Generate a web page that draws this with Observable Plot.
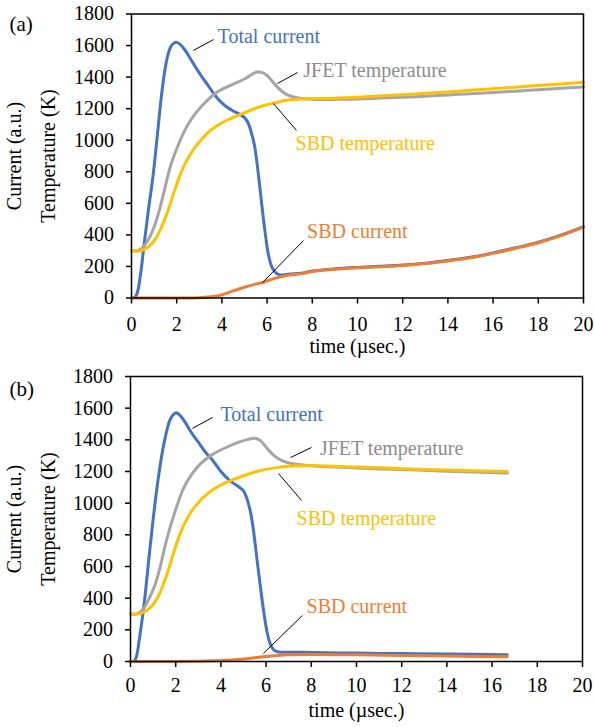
<!DOCTYPE html>
<html>
<head>
<meta charset="utf-8">
<script src="https://cdn.jsdelivr.net/npm/d3@7"></script>
<script src="https://cdn.jsdelivr.net/npm/@observablehq/plot@0.6"></script>
<style>
  html, body { margin: 0; padding: 0; background: white; font-family: 'Liberation Serif'; }
  #chart { position: relative; width: 594px; height: 727px; }
  #chart svg { display: block; }
  #chart svg text { font-family: 'Liberation Serif' !important; font-variant-numeric: normal !important; }
  .plabel { position: absolute; left: 9.5px; font-family: 'Liberation Serif'; font-size: 21px; line-height: 21px; color: black; }
</style>
</head>
<body>
<div id="chart"></div>
<script>
// ---------- data ----------
const seriesNames = ["Total current", "SBD current", "JFET temperature", "SBD temperature"];
const xTicks = [0, 2, 4, 6, 8, 10, 12, 14, 16, 18, 20];
const yTicks = [0, 200, 400, 600, 800, 1000, 1200, 1400, 1600, 1800];
const panelLabels = ["(a)", "(b)"];
const xTitle = "time (µsec.)";
const yTitles = ["Current (a.u.)", "Temperature (K)"];

// panel (a): [time µs, value]
const aTotalCurrent = [[0,0],[0.15,5],[0.25,30],[0.4,150],[0.55,330],[0.75,560],[0.95,770],[1.15,1040],[1.3,1250],[1.45,1420],[1.6,1535],[1.75,1595],[1.9,1618],[2.0,1620],[2.15,1608],[2.35,1575],[2.6,1518],[2.85,1460],[3.1,1405],[3.4,1345],[3.64,1295],[3.9,1250],[4.2,1212],[4.5,1185],[4.8,1163],[5.0,1143],[5.15,1112],[5.3,1050],[5.45,960],[5.6,800],[5.75,610],[5.9,430],[6.05,280],[6.2,200],[6.35,165],[6.5,150],[6.7,146],[7,152],[7.5,157],[8,171],[9,185],[10,194],[11,201],[12,209],[13,221],[14,238],[15,258],[16,286],[17,318],[18,353],[19,398],[20,452]];
const aSbdCurrent = [[0,0],[1,0],[2,0],[3,2],[3.5,8],[4,20],[4.5,45],[5,68],[5.5,88],[5.86,100],[6.2,118],[6.6,135],[7,146],[7.5,153],[8,168],[9,182],[10,191],[11,198],[12,206],[13,218],[14,235],[15,255],[16,283],[17,315],[18,350],[19,395],[20,449]];
const aJfetTemp = [[0,300],[0.3,302],[0.55,330],[0.8,385],[1.0,450],[1.2,540],[1.4,650],[1.6,770],[1.8,870],[2.0,945],[2.25,1030],[2.5,1100],[2.75,1155],[3.0,1200],[3.3,1245],[3.64,1290],[4.0,1322],[4.5,1355],[5.0,1388],[5.3,1415],[5.55,1432],[5.75,1430],[6.0,1410],[6.25,1370],[6.5,1330],[6.75,1300],[7.0,1282],[7.4,1268],[8,1260],[9,1259],[10,1262],[11,1267],[12,1272],[13,1279],[14,1286],[15,1295],[16,1303],[17,1311],[18,1320],[19,1329],[20,1338]];
const aSbdTemp = [[0,300],[0.4,300],[0.7,318],[1.0,362],[1.3,440],[1.58,540],[1.87,665],[2.1,760],[2.35,845],[2.6,910],[2.85,962],[3.1,1005],[3.4,1050],[3.8,1093],[4.2,1125],[4.53,1146],[4.9,1168],[5.27,1190],[5.6,1208],[6.0,1225],[6.33,1236],[6.74,1250],[7.0,1256],[7.5,1261],[8,1263],[9,1266],[10,1272],[11,1280],[12,1288],[13,1297],[14,1306],[15,1316],[16,1326],[17,1336],[18,1347],[19,1357],[20,1368]];

// panel (b)
const bTotalCurrent = [[0,0],[0.15,3],[0.25,25],[0.4,150],[0.6,360],[0.88,740],[1.17,1096],[1.47,1370],[1.76,1530],[1.95,1566],[2.05,1570],[2.2,1553],[2.4,1515],[2.7,1445],[3.0,1385],[3.3,1325],[3.65,1268],[4.0,1200],[4.4,1142],[4.8,1102],[5.0,1078],[5.15,1030],[5.3,950],[5.45,820],[5.6,640],[5.75,470],[5.9,310],[6.05,180],[6.2,105],[6.35,72],[6.55,60],[7,58],[7.5,58],[8,57],[10,53],[12,50],[14,47],[16.67,43]];
const bSbdCurrent = [[0,0],[2,0],[3,2],[4,6],[4.5,10],[5,16],[5.5,24],[6,32],[6.5,38],[7,42],[8,44],[10,42],[12,38],[14,34],[16.67,30]];
const bJfetTemp = [[0,300],[0.3,302],[0.55,330],[0.88,415],[1.1,490],[1.3,590],[1.6,770],[2.0,960],[2.35,1095],[2.7,1180],[3.1,1250],[3.6,1305],[4.2,1350],[4.8,1385],[5.2,1403],[5.5,1410],[5.75,1395],[6.05,1345],[6.35,1300],[6.7,1268],[7.1,1250],[7.7,1240],[8,1236],[10,1222],[12,1212],[14,1202],[16.67,1190]];
const bSbdTemp = [[0,300],[0.4,302],[0.7,320],[1.0,360],[1.32,440],[1.69,585],[2.05,750],[2.42,880],[2.86,980],[3.45,1065],[4.0,1115],[4.57,1150],[5.1,1178],[5.6,1200],[6.05,1215],[6.55,1226],[7.1,1234],[7.7,1237],[8.5,1235],[10,1228],[12,1218],[14,1209],[16.67,1200]];

// annotation anchors in data units: [labelX, labelY, lineX1, lineY1, lineX2, lineY2]
const aAnnot = [[3.81,1619, 2.74,1569, 3.63,1638],
                [7.77,381, 5.80,98, 7.61,364],
                [7.60,1398, 6.46,1360, 7.35,1429],
                [7.26,941, 6.28,1233, 7.30,1062]];
const bAnnot = [[3.98,1518, 2.74,1472, 3.63,1541],
                [7.79,309, 5.88,51, 7.61,291],
                [8.38,1307, 7.08,1288, 8.01,1352],
                [7.35,865, 6.55,1187, 7.57,1017]];

// ---------- styling ----------
const lineColors = ["#4472C4", "#ED7D31", "#A5A5A5", "#FFC000"];
const textColors = ["#4472C4", "#ED7D31", "#8C8C8C", "#FFC000"];
const FONT = "Liberation Serif";
const FS = 20;

function panel(series, annot, opt) {
  const ann = annot.map((a, i) => ({name: seriesNames[i], lx: a[0], ly: a[1], x1: a[2], y1: a[3], x2: a[4], y2: a[5], color: textColors[i]}));
  const lines = series.map((s, i) => Plot.line(s, {x: d => d[0], y: d => d[1], stroke: lineColors[i], strokeWidth: 3, curve: "catmull-rom"}));
  const t = {fontFamily: FONT, fontSize: FS};
  return Plot.plot({
    width: 594,
    height: opt.height,
    marginLeft: opt.ml, marginRight: opt.mr, marginTop: opt.mt, marginBottom: opt.mb,
    style: {fontFamily: FONT, fontSize: FS + "px"},
    x: {domain: [0, 20], ticks: xTicks},
    y: {domain: [0, 1800], ticks: yTicks},
    marks: [
      ...lines,
      Plot.frame({stroke: "black", strokeWidth: 1.5}),
      Plot.axisX({ticks: xTicks, tickSize: 6, tickPadding: opt.xpad, tickFormat: d3.format("d"), label: null, strokeWidth: 1.5, fontVariant: "normal", ...t}),
      Plot.axisY({ticks: yTicks, tickSize: 5, tickPadding: 12.5, tickFormat: d3.format("d"), label: null, strokeWidth: 1.5, fontVariant: "normal", ...t}),
      Plot.link(ann, {x1: "x1", y1: "y1", x2: "x2", y2: "y2", stroke: "black", strokeWidth: 1}),
      Plot.text(ann, {x: "lx", y: "ly", text: "name", fill: "color", textAnchor: "start", lineAnchor: "bottom", ...t}),
      Plot.text([xTitle], {frameAnchor: "bottom", text: d => d, dy: opt.xdy, lineAnchor: "bottom", fill: "black", ...t}),
      Plot.text([yTitles[0]], {frameAnchor: "left", text: d => d, rotate: -90, dx: 20 - opt.ml, lineAnchor: "bottom", textAnchor: "middle", fill: "black", ...t}),
      Plot.text([yTitles[1]], {frameAnchor: "left", text: d => d, rotate: -90, dx: 54 - opt.ml, lineAnchor: "bottom", textAnchor: "middle", fill: "black", ...t})
    ]
  });
}

const chart = document.getElementById("chart");
chart.appendChild(panel([aTotalCurrent, aSbdCurrent, aJfetTemp, aSbdTemp], aAnnot,
  {height: 363, ml: 131, mr: 11, mt: 13.5, mb: 65.5, xdy: 55, xpad: 12.5}));
chart.appendChild(panel([bTotalCurrent, bSbdCurrent, bJfetTemp, bSbdTemp], bAnnot,
  {height: 364, ml: 130, mr: 12, mt: 13, mb: 66, xdy: 55, xpad: 10.5}));
// panel letters as HTML text
[[panelLabels[0], 14], [panelLabels[1], 379]].forEach(([txt, top]) => {
  const d = document.createElement("div");
  d.className = "plabel";
  d.style.top = top + "px";
  d.textContent = txt;
  chart.appendChild(d);
});
</script>
</body>
</html>
